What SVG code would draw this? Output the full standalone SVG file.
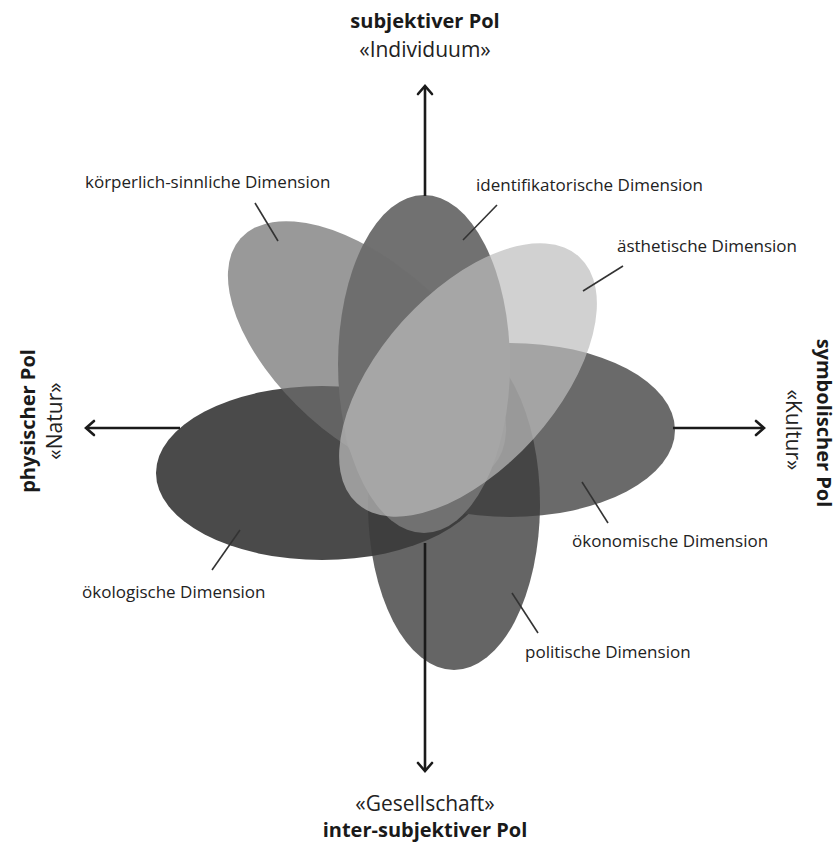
<svg xmlns="http://www.w3.org/2000/svg" width="838" height="846" viewBox="0 0 838 846">
<style>
.lbl{font-family:"Open Sans","Noto Sans","DejaVu Sans",sans-serif;font-size:17px;fill:#222}
.pole{font-family:"Open Sans","Noto Sans","DejaVu Sans",sans-serif;font-size:21px;fill:#222;text-anchor:middle}
.b{font-weight:bold;font-size:20px;fill:#1a1a1a}
.ax{fill:none;stroke:#1a1a1a;stroke-width:2.6}
.ld{fill:none;stroke:#333;stroke-width:1.6}
</style>
<defs>
<marker id="arr" markerUnits="userSpaceOnUse" markerWidth="24" markerHeight="24" viewBox="-12 -12 24 24" refX="0" refY="0" orient="auto" overflow="visible">
<path d="M-8,-7 L0,0 L-8,7" fill="none" stroke="#1a1a1a" stroke-width="2.6" stroke-linecap="round"/>
</marker>
</defs>
<rect width="838" height="846" fill="#fff"/>
<g id="oekologische">
<ellipse cx="322" cy="473" rx="166" ry="87" fill="#4a4a4a"/>
</g>
<g id="oekonomische">
<ellipse cx="510" cy="430" rx="165" ry="87" fill="#6a6a6a"/>
</g>
<g id="politische">
<ellipse cx="454" cy="504" rx="86" ry="166" fill="#3b3b3b" fill-opacity="0.79"/>
</g>
<g id="identifikatorische">
<ellipse cx="424" cy="364" rx="86" ry="169" fill="#717171"/>
</g>
<g id="koerperlich">
<ellipse cx="0" cy="0" rx="170" ry="87" transform="translate(367,352) rotate(42)" fill="#6e6e6e" fill-opacity="0.7"/>
</g>
<g id="aesthetische">
<ellipse cx="0" cy="0" rx="166" ry="88" transform="translate(468,380) rotate(-48)" fill="#bebebe" fill-opacity="0.7"/>
</g>
<g id="connectors">
<path class="ax" d="M425,196 V86" marker-end="url(#arr)"/>
<path class="ax" d="M425,543 V771" marker-end="url(#arr)"/>
<path class="ax" d="M180,428 H86" marker-end="url(#arr)"/>
<path class="ax" d="M673,428 H764" marker-end="url(#arr)"/>
<path class="ld" d="M255,203 L278,241"/>
<path class="ld" d="M497,205 L463,240"/>
<path class="ld" d="M623,266 L583,291"/>
<path class="ld" d="M582,482 L608,523"/>
<path class="ld" d="M240,530 L212,570"/>
<path class="ld" d="M512,593 L538,633"/>
</g>
<g id="labels">
<text class="lbl" x="85" y="188">körperlich-sinnliche Dimension</text>
<text class="lbl" x="476" y="191">identifikatorische Dimension</text>
<text class="lbl" x="617" y="252">ästhetische Dimension</text>
<text class="lbl" x="572" y="547">ökonomische Dimension</text>
<text class="lbl" x="82" y="598">ökologische Dimension</text>
<text class="lbl" x="525" y="658">politische Dimension</text>
</g>
<g id="poles">
<text class="pole b" x="425" y="28">subjektiver Pol</text>
<text class="pole" x="425" y="57">«Individuum»</text>
<text class="pole" x="425" y="811">«Gesellschaft»</text>
<text class="pole b" x="425" y="837">inter-subjektiver Pol</text>
<text class="pole b" transform="translate(35,421) rotate(-90)">physischer Pol</text>
<text class="pole" transform="translate(62,421) rotate(-90)">«Natur»</text>
<text class="pole b" transform="translate(817,423) rotate(90)">symbolischer Pol</text>
<text class="pole" transform="translate(786,430) rotate(90)">«Kultur»</text>
</g>
</svg>
